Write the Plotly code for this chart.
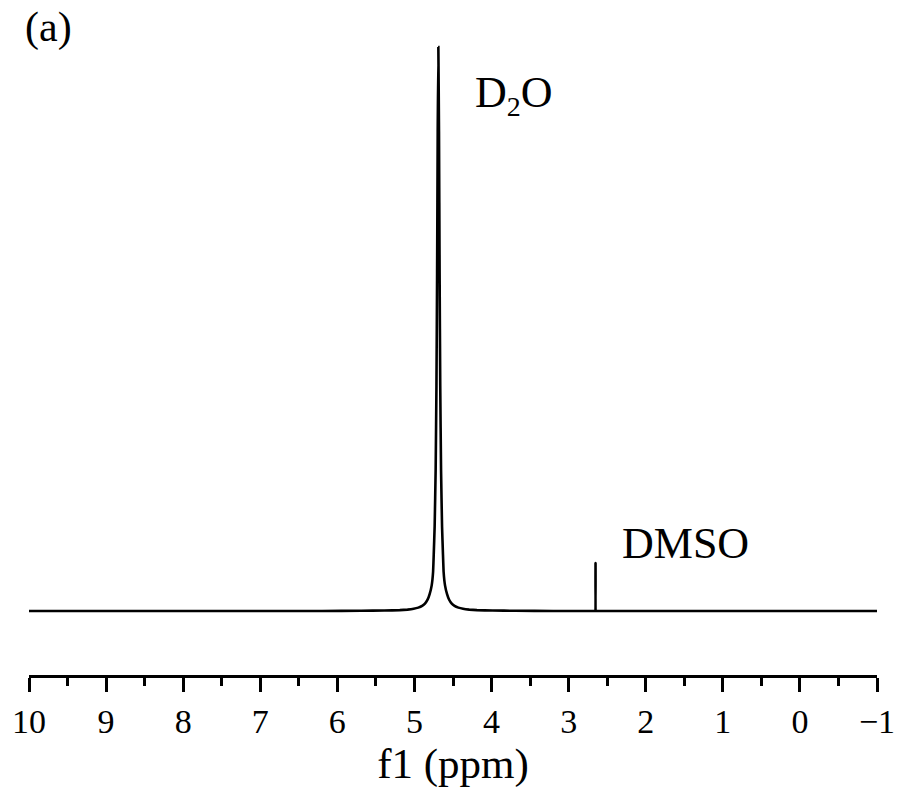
import plotly.graph_objects as go

# 1H NMR spectrum (chemical shift in ppm, normalised intensity)
shift_ppm = [
    10.0, 6.2, 5.69, 5.39, 5.19, 5.09, 5.01, 4.95, 4.90, 4.864, 4.83,
    4.803, 4.777, 4.758, 4.75, 4.738, 4.725, 4.7145, 4.7063, 4.6984, 4.69,
    4.6816, 4.6737, 4.6655, 4.655, 4.642, 4.63, 4.622, 4.603, 4.577,
    4.55, 4.516, 4.48, 4.43, 4.37, 4.29, 4.19, 3.99, 3.69, 3.2,
    2.67, 2.656, 2.651, 2.646, 2.63, -1.0,
]
intensity = [
    0.0, 0.0, 0.0004, 0.0008, 0.0016, 0.0025, 0.004, 0.006, 0.009, 0.013, 0.02,
    0.03, 0.045, 0.07, 0.10, 0.15, 0.25, 0.40, 0.60, 0.85, 1.0,
    0.85, 0.60, 0.40, 0.25, 0.15, 0.10, 0.07, 0.045, 0.03,
    0.02, 0.013, 0.009, 0.006, 0.004, 0.0025, 0.0016, 0.0008, 0.0004, 0.0,
    0.0, 0.0, 0.085, 0.0, 0.0, 0.0,
]

major_ticks = list(range(10, -2, -1))
peak_labels = [
    {"text": "D<sub><span style='font-size:28px'>2</span></sub>O", "ppm": 4.24, "y": 0.915},
    {"text": "DMSO", "ppm": 2.333, "y": 0.12},
]

W, H = 898, 791
plot_top, plot_bottom = 0, 675
base_px, top_px = 611, 47
unit = base_px - top_px
y_min = -(plot_bottom - base_px) / unit
y_max = (base_px - plot_top) / unit

serif = "Liberation Serif, Times New Roman, serif"

fig = go.Figure()
fig.add_trace(go.Scatter(
    x=shift_ppm, y=intensity, mode="lines",
    line=dict(color="black", width=2.6, shape="spline", smoothing=0.3),
    hoverinfo="skip", showlegend=False,
))

for lab in peak_labels:
    fig.add_annotation(
        x=lab["ppm"], y=lab["y"], xref="x", yref="y",
        text=lab["text"], showarrow=False, xanchor="left", yanchor="middle",
        font=dict(family=serif, size=44, color="black"),
    )

fig.add_annotation(
    x=(48 - 29) / (W - 29 - 21), y=(plot_bottom - 28) / (plot_bottom - plot_top),
    xref="paper", yref="paper", text="(a)", showarrow=False,
    xanchor="center", yanchor="middle",
    font=dict(family=serif, size=42, color="black"),
)

fig.update_layout(
    width=W, height=H,
    margin=dict(l=29, r=21, t=plot_top, b=H - plot_bottom),
    paper_bgcolor="white", plot_bgcolor="white",
    xaxis=dict(
        range=[10, -1], autorange=False,
        tickmode="array", tickvals=major_ticks,
        ticks="outside", ticklen=14, tickwidth=2.5, tickcolor="black",
        showline=True, linecolor="black", linewidth=2.5,
        showgrid=False, zeroline=False,
        minor=dict(dtick=0.5, tick0=0, ticks="outside", ticklen=8,
                   tickwidth=2.5, tickcolor="black", showgrid=False),
        tickfont=dict(family=serif, size=34, color="black"),
        title=dict(text="f1 (ppm)", standoff=4,
                   font=dict(family=serif, size=43, color="black")),
    ),
    yaxis=dict(range=[y_min, y_max], autorange=False, visible=False,
               showgrid=False, zeroline=False),
)

fig.write_html("out.html")
